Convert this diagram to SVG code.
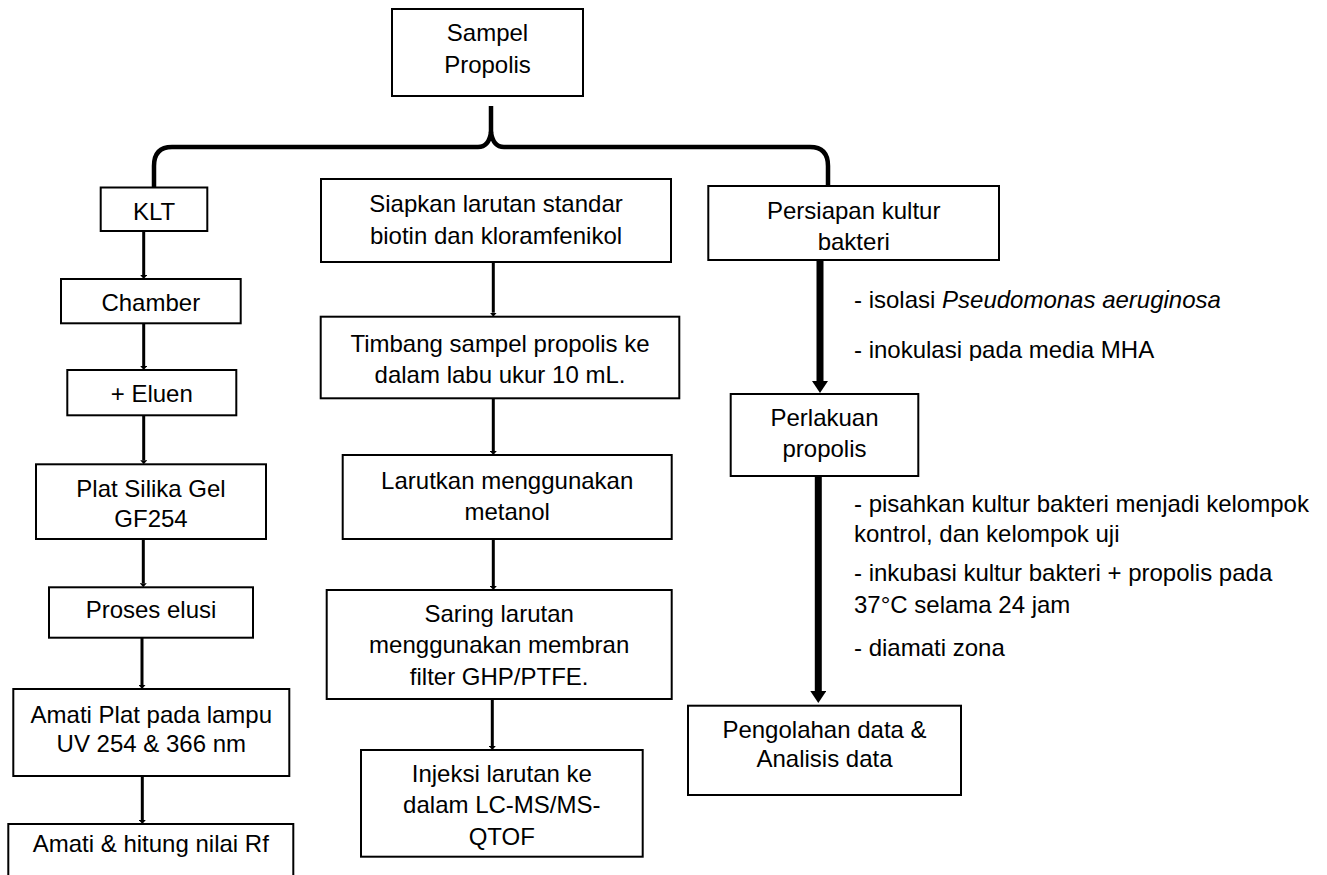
<svg xmlns="http://www.w3.org/2000/svg" width="1327" height="875" viewBox="0 0 1327 875">
<style>
.box{fill:#fff;stroke:#000;stroke-width:2}
.t{font-family:"Liberation Sans",Arial,sans-serif;font-size:24px;fill:#000}
.c{text-anchor:middle}
.thin{stroke:#000;stroke-width:3;fill:none}
.thick{stroke:#000;stroke-width:7;fill:none}
.brace{stroke:#000;stroke-width:4.5;fill:none;stroke-linejoin:round;stroke-linecap:butt}
</style>
<defs>
<marker id="tipS" markerUnits="userSpaceOnUse" markerWidth="5" markerHeight="7" refX="0" refY="3.5" orient="auto">
<path d="M0,0 L4,3.5 L0,7 z" fill="#000"/>
</marker>
<marker id="tipL" markerUnits="userSpaceOnUse" markerWidth="13" markerHeight="16" refX="0" refY="8" orient="auto">
<path d="M0,0 L12,8 L0,16 z" fill="#000"/>
</marker>
<clipPath id="clipMHA"><rect x="840" y="320" width="400" height="41"/></clipPath>
</defs>

<g id="connectors">
<path class="brace" d="M154,187 L154,166 Q154,147 172,147 L478,147 Q489,147 491,132 Q493,147 504,147 L810,147 Q828,147 828,166 L828,187"/>
<path class="brace" d="M491,106 L491,133"/>
<line class="thin" x1="143.7" y1="231" x2="143.7" y2="275" marker-end="url(#tipS)"/>
<line class="thin" x1="143.7" y1="323.3" x2="143.7" y2="366" marker-end="url(#tipS)"/>
<line class="thin" x1="143.7" y1="415.3" x2="143.7" y2="460.3" marker-end="url(#tipS)"/>
<line class="thin" x1="143.3" y1="539" x2="143.3" y2="583.3" marker-end="url(#tipS)"/>
<line class="thin" x1="142" y1="637.7" x2="142" y2="685" marker-end="url(#tipS)"/>
<line class="thin" x1="142.3" y1="776" x2="142.3" y2="820" marker-end="url(#tipS)"/>
<line class="thin" x1="493.3" y1="262" x2="493.3" y2="312.7" marker-end="url(#tipS)"/>
<line class="thin" x1="493.3" y1="398.3" x2="493.3" y2="451" marker-end="url(#tipS)"/>
<line class="thin" x1="493.3" y1="539" x2="493.3" y2="586" marker-end="url(#tipS)"/>
<line class="thin" x1="492.3" y1="699" x2="492.3" y2="746" marker-end="url(#tipS)"/>
<line class="thick" x1="820" y1="260" x2="820" y2="381" marker-end="url(#tipL)"/>
<line class="thick" x1="818.3" y1="476" x2="818.3" y2="691" marker-end="url(#tipL)"/>
</g>

<g id="sampel">
<rect class="box" x="392" y="9" width="191" height="87"/>
<text class="t c" x="487.5" y="41">Sampel</text>
<text class="t c" x="487.5" y="73">Propolis</text>
</g>

<g id="klt">
<rect class="box" x="100.7" y="187.5" width="106.6" height="43.5"/>
<text class="t c" x="154" y="220">KLT</text>
</g>
<g id="chamber">
<rect class="box" x="61" y="279" width="179.7" height="44.3"/>
<text class="t c" x="150.8" y="310.7">Chamber</text>
</g>
<g id="eluen">
<rect class="box" x="67.3" y="370" width="169" height="45.3"/>
<text class="t c" x="151.8" y="401.7">+ Eluen</text>
</g>
<g id="plat">
<rect class="box" x="36" y="464.3" width="230" height="74.7"/>
<text class="t c" x="151" y="496.7">Plat Silika Gel</text>
<text class="t c" x="151" y="526.7">GF254</text>
</g>
<g id="proses">
<rect class="box" x="49" y="587.3" width="204" height="50.4"/>
<text class="t c" x="151" y="618.3">Proses elusi</text>
</g>
<g id="amati">
<rect class="box" x="13.3" y="689" width="276" height="87"/>
<text class="t c" x="151.3" y="722.7">Amati Plat pada lampu</text>
<text class="t c" x="151.3" y="751.7">UV 254 &amp; 366 nm</text>
</g>
<g id="hitung">
<rect class="box" x="8.3" y="824" width="285" height="70"/>
<text class="t c" x="150.8" y="851.7">Amati &amp; hitung nilai Rf</text>
</g>

<g id="siapkan">
<rect class="box" x="321" y="179" width="350" height="83"/>
<text class="t c" x="496" y="212">Siapkan larutan standar</text>
<text class="t c" x="496" y="244">biotin dan kloramfenikol</text>
</g>
<g id="timbang">
<rect class="box" x="320.7" y="316.7" width="358.6" height="81.6"/>
<text class="t c" x="500" y="351.7">Timbang sampel propolis ke</text>
<text class="t c" x="500" y="383.3">dalam labu ukur 10 mL.</text>
</g>
<g id="larutkan">
<rect class="box" x="342.7" y="455" width="329" height="84"/>
<text class="t c" x="507.2" y="489">Larutkan menggunakan</text>
<text class="t c" x="507.2" y="520">metanol</text>
</g>
<g id="saring">
<rect class="box" x="326.7" y="590" width="345" height="109"/>
<text class="t c" x="499.2" y="622">Saring larutan</text>
<text class="t c" x="499.2" y="653">menggunakan membran</text>
<text class="t c" x="499.2" y="685">filter GHP/PTFE.</text>
</g>
<g id="injeksi">
<rect class="box" x="361" y="750" width="281.7" height="106.7"/>
<text class="t c" x="501.8" y="781.7">Injeksi larutan ke</text>
<text class="t c" x="501.8" y="813.3">dalam LC-MS/MS-</text>
<text class="t c" x="501.8" y="845">QTOF</text>
</g>

<g id="persiapan">
<rect class="box" x="708.3" y="186" width="290.7" height="74"/>
<text class="t c" x="853.7" y="219">Persiapan kultur</text>
<text class="t c" x="853.7" y="250">bakteri</text>
</g>
<g id="perlakuan">
<rect class="box" x="730.7" y="394" width="187.6" height="82"/>
<text class="t c" x="824.5" y="426">Perlakuan</text>
<text class="t c" x="824.5" y="457">propolis</text>
</g>
<g id="pengolahan">
<rect class="box" x="688" y="705.7" width="273" height="89.3"/>
<text class="t c" x="824.5" y="738.3">Pengolahan data &amp;</text>
<text class="t c" x="824.5" y="767.3">Analisis data</text>
</g>

<g id="notes">
<text class="t" x="854" y="308.3">- isolasi <tspan font-style="italic">Pseudomonas aeruginosa</tspan></text>
<text class="t" x="854" y="358" clip-path="url(#clipMHA)">- inokulasi pada media MHA</text>
<text class="t" x="854" y="512.3">- pisahkan kultur bakteri menjadi kelompok</text>
<text class="t" x="854" y="542.3">kontrol, dan kelompok uji</text>
<text class="t" x="854" y="581">- inkubasi kultur bakteri + propolis pada</text>
<text class="t" x="854" y="613.3">37°C selama 24 jam</text>
<text class="t" x="854" y="655.7">- diamati zona</text>
</g>
</svg>
